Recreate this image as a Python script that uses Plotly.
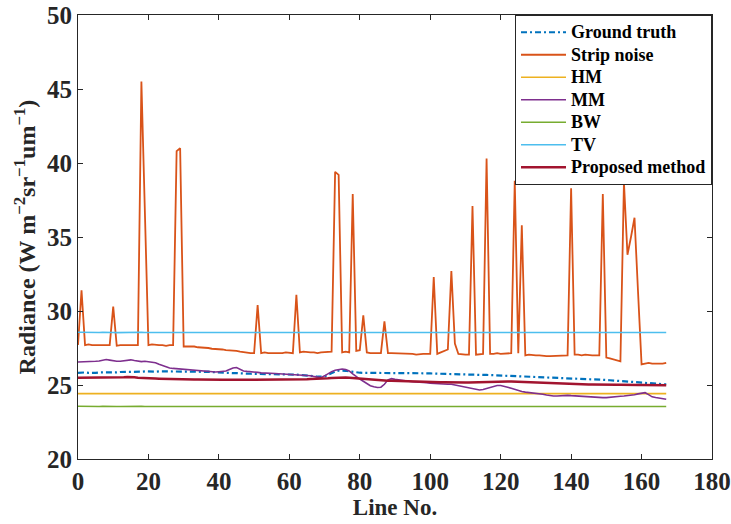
import plotly.graph_objects as go

line_no = list(range(168))

ground_truth = [
    25.82, 25.85, 25.85, 25.82, 25.80, 25.82, 25.85, 25.85, 25.82, 25.80, 25.82, 25.85,
    25.88, 25.88, 25.90, 25.88, 25.86, 25.88, 25.90, 25.92, 25.90, 25.88, 25.90, 25.92,
    25.92, 25.90, 25.90, 25.92, 25.94, 25.92, 25.90, 25.90, 25.92, 25.92, 25.90, 25.88,
    25.90, 25.90, 25.88, 25.86, 25.85, 25.84, 25.85, 25.83, 25.80, 25.80, 25.78, 25.78,
    25.77, 25.76, 25.75, 25.75, 25.74, 25.74, 25.73, 25.73, 25.72, 25.72, 25.72, 25.71,
    25.70, 25.70, 25.70, 25.68, 25.67, 25.65, 25.62, 25.60, 25.56, 25.55, 25.58, 25.68,
    25.82, 25.92, 25.97, 25.98, 25.96, 25.92, 25.88, 25.85, 25.83, 25.82, 25.82, 25.82,
    25.83, 25.84, 25.84, 25.83, 25.82, 25.82, 25.83, 25.84, 25.83, 25.82, 25.82, 25.82,
    25.81, 25.80, 25.80, 25.79, 25.78, 25.77, 25.76, 25.76, 25.75, 25.75, 25.74, 25.74,
    25.73, 25.72, 25.72, 25.71, 25.70, 25.70, 25.69, 25.68, 25.68, 25.67, 25.66, 25.65,
    25.65, 25.64, 25.63, 25.62, 25.61, 25.60, 25.60, 25.59, 25.58, 25.57, 25.56, 25.55,
    25.55, 25.54, 25.53, 25.52, 25.51, 25.50, 25.50, 25.49, 25.48, 25.47, 25.46, 25.45,
    25.44, 25.43, 25.42, 25.40, 25.38, 25.36, 25.34, 25.32, 25.30, 25.28, 25.26, 25.24,
    25.22, 25.21, 25.20, 25.19, 25.17, 25.15, 25.13, 25.11, 25.09, 25.07, 25.05, 25.04,
]

strip_noise = [
    27.70, 31.40, 27.70, 27.75, 27.70, 27.70, 27.65, 27.70, 27.70, 27.70, 30.30, 27.65,
    27.70, 27.70, 27.65, 27.70, 27.70, 27.70, 45.50, 36.60, 27.70, 27.75, 27.70, 27.70,
    27.70, 27.65, 27.70, 27.70, 40.80, 41.00, 27.60, 27.60, 27.65, 27.60, 27.55, 27.55,
    27.50, 27.50, 27.45, 27.45, 27.40, 27.40, 27.35, 27.35, 27.30, 27.30, 27.25, 27.20,
    27.20, 27.15, 27.15, 30.40, 27.15, 27.20, 27.15, 27.15, 27.10, 27.15, 27.15, 27.20,
    27.15, 27.15, 31.10, 27.20, 27.25, 27.20, 27.20, 27.20, 27.15, 27.20, 27.20, 27.20,
    27.25, 39.40, 39.20, 27.20, 27.25, 27.20, 37.90, 27.30, 27.35, 29.70, 27.20, 27.15,
    27.15, 27.15, 27.15, 29.30, 27.15, 27.15, 27.15, 27.10, 27.15, 27.10, 27.10, 27.10,
    27.05, 27.10, 27.10, 27.10, 27.10, 32.30, 27.10, 27.20, 27.30, 27.40, 32.70, 27.80,
    27.10, 27.05, 27.05, 27.05, 37.10, 27.05, 27.10, 27.10, 40.30, 27.10, 27.10, 27.15,
    27.10, 27.10, 27.15, 27.15, 38.80, 27.15, 35.80, 27.00, 27.05, 27.00, 27.00, 27.00,
    26.95, 26.95, 26.95, 26.95, 26.95, 27.00, 27.00, 27.00, 38.30, 27.05, 27.05, 27.00,
    27.05, 27.00, 27.00, 27.00, 27.00, 37.90, 26.85, 26.80, 26.75, 26.65, 26.60, 38.70,
    33.80, 35.00, 36.30, 31.30, 26.40, 26.45, 26.50, 26.45, 26.45, 26.40, 26.45, 26.50,
]

hm = [
    24.42, 24.42, 24.42, 24.42, 24.42, 24.42, 24.42, 24.42, 24.42, 24.42, 24.42, 24.42,
    24.42, 24.42, 24.42, 24.42, 24.42, 24.42, 24.42, 24.42, 24.42, 24.42, 24.42, 24.42,
    24.42, 24.42, 24.42, 24.42, 24.42, 24.42, 24.42, 24.42, 24.42, 24.42, 24.42, 24.42,
    24.42, 24.42, 24.42, 24.42, 24.42, 24.42, 24.42, 24.42, 24.42, 24.42, 24.42, 24.42,
    24.42, 24.42, 24.42, 24.42, 24.42, 24.42, 24.42, 24.42, 24.42, 24.42, 24.42, 24.42,
    24.42, 24.42, 24.42, 24.42, 24.42, 24.42, 24.42, 24.42, 24.42, 24.42, 24.42, 24.42,
    24.42, 24.42, 24.42, 24.42, 24.42, 24.42, 24.42, 24.42, 24.42, 24.42, 24.42, 24.42,
    24.42, 24.42, 24.42, 24.42, 24.42, 24.42, 24.42, 24.42, 24.42, 24.42, 24.42, 24.42,
    24.42, 24.42, 24.42, 24.42, 24.42, 24.42, 24.42, 24.42, 24.42, 24.42, 24.42, 24.42,
    24.42, 24.42, 24.42, 24.42, 24.42, 24.42, 24.42, 24.42, 24.42, 24.42, 24.42, 24.42,
    24.42, 24.42, 24.42, 24.42, 24.42, 24.42, 24.42, 24.42, 24.42, 24.42, 24.42, 24.42,
    24.42, 24.42, 24.42, 24.42, 24.42, 24.42, 24.42, 24.42, 24.42, 24.42, 24.42, 24.42,
    24.42, 24.42, 24.42, 24.42, 24.42, 24.42, 24.42, 24.42, 24.42, 24.42, 24.42, 24.42,
    24.42, 24.42, 24.42, 24.42, 24.42, 24.42, 24.42, 24.42, 24.42, 24.42, 24.42, 24.42,
]

mm = [
    26.55, 26.55, 26.58, 26.60, 26.58, 26.60, 26.62, 26.68, 26.72, 26.68, 26.62, 26.60,
    26.60, 26.62, 26.68, 26.70, 26.65, 26.60, 26.58, 26.60, 26.58, 26.55, 26.50, 26.40,
    26.30, 26.20, 26.15, 26.12, 26.10, 26.08, 26.05, 26.05, 26.02, 26.00, 25.98, 25.95,
    25.95, 25.92, 25.90, 25.88, 25.90, 25.92, 25.95, 26.05, 26.15, 26.18, 26.05, 25.95,
    25.92, 25.88, 25.85, 25.85, 25.82, 25.82, 25.80, 25.80, 25.78, 25.76, 25.75, 25.74,
    25.72, 25.72, 25.70, 25.70, 25.68, 25.65, 25.62, 25.58, 25.52, 25.50, 25.62, 25.78,
    25.90, 26.00, 26.05, 26.08, 26.05, 25.95, 25.75, 25.55, 25.40, 25.25, 25.10, 24.95,
    24.88, 24.83, 24.85, 25.05, 25.35, 25.43, 25.38, 25.34, 25.30, 25.28, 25.25, 25.22,
    25.20, 25.20, 25.18, 25.15, 25.12, 25.10, 25.10, 25.08, 25.06, 25.05, 25.05, 25.00,
    24.95, 24.90, 24.85, 24.80, 24.75, 24.70, 24.66, 24.70, 24.78, 24.85, 24.92, 24.97,
    24.97, 24.93, 24.85, 24.78, 24.70, 24.62, 24.56, 24.52, 24.50, 24.48, 24.46, 24.42,
    24.38, 24.32, 24.28, 24.26, 24.26, 24.28, 24.30, 24.30, 24.28, 24.26, 24.24, 24.22,
    24.22, 24.22, 24.20, 24.18, 24.16, 24.15, 24.15, 24.16, 24.18, 24.20, 24.24, 24.26,
    24.28, 24.30, 24.34, 24.40, 24.46, 24.48, 24.35, 24.20, 24.15, 24.12, 24.08, 24.04,
]

bw = [
    23.56, 23.55, 23.56, 23.57, 23.56, 23.55, 23.55, 23.56, 23.57, 23.58, 23.56, 23.55,
    23.55, 23.56, 23.55, 23.55, 23.56, 23.57, 23.56, 23.55, 23.55, 23.56, 23.55, 23.55,
    23.56, 23.55, 23.55, 23.56, 23.57, 23.56, 23.55, 23.55, 23.56, 23.55, 23.55, 23.56,
    23.55, 23.55, 23.56, 23.55, 23.55, 23.56, 23.56, 23.55, 23.55, 23.56, 23.55, 23.55,
    23.56, 23.55, 23.55, 23.56, 23.55, 23.55, 23.56, 23.55, 23.56, 23.55, 23.55, 23.56,
    23.55, 23.55, 23.56, 23.55, 23.55, 23.56, 23.55, 23.55, 23.56, 23.57, 23.56, 23.55,
    23.55, 23.56, 23.55, 23.55, 23.56, 23.55, 23.55, 23.56, 23.55, 23.55, 23.56, 23.55,
    23.55, 23.56, 23.55, 23.55, 23.56, 23.55, 23.55, 23.56, 23.55, 23.55, 23.56, 23.55,
    23.55, 23.56, 23.55, 23.55, 23.56, 23.55, 23.55, 23.56, 23.55, 23.56, 23.57, 23.56,
    23.55, 23.55, 23.56, 23.55, 23.55, 23.56, 23.55, 23.55, 23.56, 23.55, 23.55, 23.56,
    23.55, 23.56, 23.57, 23.56, 23.55, 23.55, 23.56, 23.55, 23.55, 23.56, 23.55, 23.55,
    23.56, 23.55, 23.55, 23.56, 23.55, 23.55, 23.56, 23.55, 23.55, 23.56, 23.55, 23.55,
    23.56, 23.55, 23.55, 23.56, 23.55, 23.55, 23.56, 23.55, 23.55, 23.56, 23.55, 23.55,
    23.56, 23.55, 23.55, 23.56, 23.55, 23.56, 23.57, 23.56, 23.55, 23.55, 23.56, 23.55,
]

tv = [
    28.56, 28.55, 28.56, 28.57, 28.56, 28.55, 28.55, 28.56, 28.57, 28.56, 28.55, 28.54,
    28.55, 28.56, 28.55, 28.55, 28.56, 28.57, 28.56, 28.55, 28.55, 28.56, 28.55, 28.54,
    28.55, 28.56, 28.56, 28.55, 28.55, 28.56, 28.57, 28.56, 28.55, 28.55, 28.56, 28.55,
    28.55, 28.56, 28.55, 28.54, 28.55, 28.56, 28.56, 28.55, 28.55, 28.56, 28.55, 28.55,
    28.56, 28.55, 28.54, 28.55, 28.56, 28.55, 28.55, 28.56, 28.57, 28.56, 28.55, 28.55,
    28.56, 28.55, 28.55, 28.56, 28.55, 28.54, 28.55, 28.56, 28.55, 28.55, 28.56, 28.55,
    28.55, 28.56, 28.57, 28.56, 28.55, 28.55, 28.56, 28.55, 28.55, 28.56, 28.55, 28.54,
    28.55, 28.56, 28.55, 28.55, 28.56, 28.55, 28.55, 28.56, 28.57, 28.56, 28.55, 28.55,
    28.56, 28.55, 28.55, 28.56, 28.55, 28.54, 28.55, 28.56, 28.55, 28.55, 28.56, 28.55,
    28.55, 28.56, 28.57, 28.56, 28.55, 28.55, 28.56, 28.55, 28.54, 28.55, 28.56, 28.55,
    28.55, 28.56, 28.55, 28.55, 28.56, 28.57, 28.56, 28.55, 28.55, 28.56, 28.55, 28.54,
    28.55, 28.56, 28.55, 28.55, 28.56, 28.55, 28.55, 28.56, 28.57, 28.56, 28.55, 28.55,
    28.56, 28.55, 28.55, 28.56, 28.55, 28.54, 28.55, 28.56, 28.55, 28.55, 28.56, 28.55,
    28.55, 28.56, 28.57, 28.56, 28.55, 28.55, 28.56, 28.55, 28.55, 28.56, 28.55, 28.55,
]

proposed = [
    25.49, 25.49, 25.50, 25.49, 25.48, 25.49, 25.50, 25.49, 25.48, 25.48, 25.49, 25.50,
    25.50, 25.52, 25.54, 25.55, 25.52, 25.49, 25.47, 25.46, 25.45, 25.45, 25.44, 25.43,
    25.42, 25.42, 25.41, 25.40, 25.40, 25.39, 25.39, 25.38, 25.38, 25.38, 25.38, 25.37,
    25.37, 25.37, 25.37, 25.36, 25.36, 25.36, 25.36, 25.35, 25.36, 25.37, 25.36, 25.35,
    25.35, 25.35, 25.35, 25.35, 25.34, 25.34, 25.35, 25.35, 25.35, 25.35, 25.35, 25.36,
    25.36, 25.37, 25.37, 25.38, 25.38, 25.39, 25.40, 25.40, 25.41, 25.42, 25.43, 25.45,
    25.47, 25.49, 25.50, 25.50, 25.50, 25.49, 25.47, 25.45, 25.42, 25.39, 25.36, 25.33,
    25.31, 25.29, 25.28, 25.28, 25.28, 25.28, 25.27, 25.27, 25.26, 25.26, 25.25, 25.24,
    25.24, 25.23, 25.22, 25.22, 25.21, 25.20, 25.20, 25.19, 25.19, 25.18, 25.18, 25.18,
    25.17, 25.17, 25.17, 25.17, 25.18, 25.18, 25.19, 25.20, 25.21, 25.22, 25.23, 25.24,
    25.25, 25.25, 25.24, 25.23, 25.22, 25.20, 25.19, 25.18, 25.16, 25.15, 25.13, 25.12,
    25.11, 25.10, 25.09, 25.08, 25.07, 25.06, 25.05, 25.05, 25.05, 25.04, 25.04, 25.04,
    25.03, 25.03, 25.03, 25.02, 25.02, 25.02, 25.02, 25.01, 25.01, 25.01, 25.01, 25.00,
    25.00, 25.00, 25.00, 25.00, 25.00, 25.00, 24.99, 24.99, 24.99, 24.99, 24.98, 24.98,
]

x_ticks = [0, 20, 40, 60, 80, 100, 120, 140, 160, 180]
y_ticks = [20, 25, 30, 35, 40, 45, 50]

FONT = "Liberation Serif"
AXIS_COLOR = "#262626"

series = [
    ("Ground truth", ground_truth, "#0072BD", 2.2, "6px,3px,2px,3px"),
    ("Strip noise", strip_noise, "#D95319", 1.8, "solid"),
    ("HM", hm, "#EDB120", 1.6, "solid"),
    ("MM", mm, "#7E2F8E", 1.6, "solid"),
    ("BW", bw, "#77AC30", 1.6, "solid"),
    ("TV", tv, "#4DBEEE", 1.6, "solid"),
    ("Proposed method", proposed, "#A2142F", 2.5, "solid"),
]

fig = go.Figure()
for name, vals, color, width, dash in series:
    fig.add_trace(go.Scatter(
        x=line_no, y=vals, mode="lines",
        name='<span style="font-size:18px">' + name + '</span>',
        line=dict(color=color, width=width, dash=dash),
    ))

axis_common = dict(
    showline=True, linecolor=AXIS_COLOR, linewidth=1, mirror="ticks",
    ticks="inside", ticklen=5, tickcolor=AXIS_COLOR, showgrid=False, zeroline=False,
    automargin=False,
    tickfont=dict(family=FONT, size=25, color="#262626", weight="bold"),
)

fig.update_layout(
    width=731, height=524,
    margin=dict(l=78, r=19, t=15, b=65),
    paper_bgcolor="white", plot_bgcolor="white",
    xaxis=dict(
        range=[0, 180], tickvals=x_ticks, ticktext=[str(v) for v in x_ticks],
        title=dict(text="Line No.", font=dict(family=FONT, size=23, color="#262626", weight="bold"), standoff=2),
        **axis_common,
    ),
    yaxis=dict(
        range=[20, 50], tickvals=y_ticks, ticktext=[str(v) for v in y_ticks],
        title=dict(text="Radiance (W m<sup>−2</sup>sr<sup>−1</sup>um<sup>−1</sup>)",
                   font=dict(family=FONT, size=24, color="#262626", weight="bold"), standoff=4),
        **axis_common,
    ),
    legend=dict(
        x=1, y=1, xanchor="right", yanchor="top",
        bgcolor="white", bordercolor=AXIS_COLOR, borderwidth=1,
        font=dict(family=FONT, size=15, color="black", weight="bold"),
        tracegroupgap=0, itemwidth=45,
    ),
    showlegend=True,
)

fig.write_html("out.html")
